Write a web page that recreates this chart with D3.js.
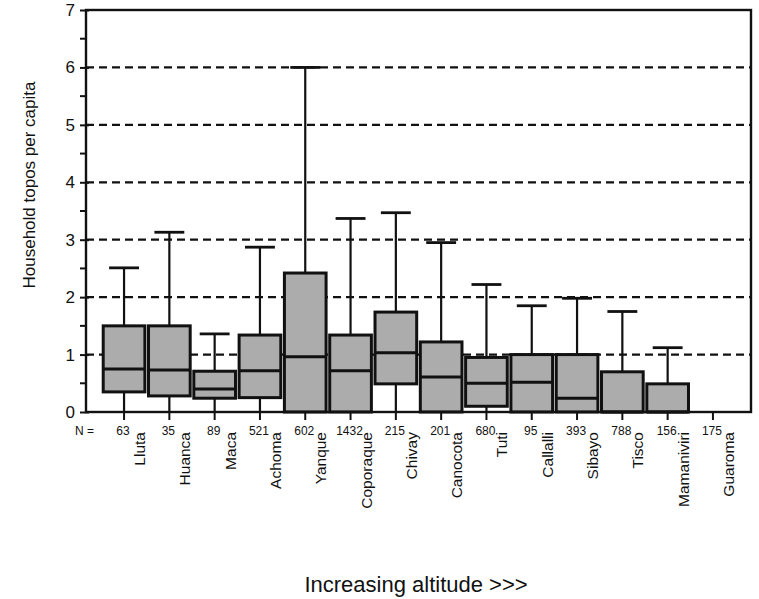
<!DOCTYPE html>
<html>
<head>
<meta charset="utf-8">
<script src="https://cdn.jsdelivr.net/npm/d3@7"></script>
<style>
  body { margin: 0; background: #fff; }
  text { font-family: "Liberation Sans", Arial, sans-serif; fill: #111; }
</style>
</head>
<body>
<div class="chart"></div>
<script>
// sites ordered by increasing altitude
var sites = ["Lluta", "Huanca", "Maca", "Achoma", "Yanque", "Coporaque", "Chivay",
  "Canocota", "Tuti", "Callalli", "Sibayo", "Tisco", "Mamaniviri", "Guaroma"];
var nCounts = [63, 35, 89, 521, 602, 1432, 215, 201, 680, 95, 393, 788, 156, 175];
// box plot statistics (household topos per capita)
var whiskerHigh = [2.51, 3.13, 1.36, 2.87, 6.0, 3.37, 3.47, 2.95, 2.22, 1.85, 1.98, 1.75, 1.12, 0];
var q3 = [1.50, 1.50, 0.71, 1.34, 2.42, 1.34, 1.74, 1.22, 0.95, 1.00, 1.00, 0.70, 0.49, 0];
var medians = [0.75, 0.73, 0.40, 0.72, 0.96, 0.72, 1.03, 0.61, 0.50, 0.52, 0.24, 0, 0, 0];
var q1 = [0.35, 0.28, 0.24, 0.25, 0, 0, 0.49, 0, 0.10, 0, 0, 0, 0, 0];
var whiskerLow = [0, 0, 0, 0, 0, 0, 0, 0, 0, 0, 0, 0, 0, 0];
var yTicks = [0, 1, 2, 3, 4, 5, 6, 7];
var gridValues = [1, 2, 3, 4, 5, 6];

function draw() {
  var width = 759, height = 599;
  var left = 86, right = 751, plotTop = 10, bottom = 412;

  var svg = d3.select(".chart").append("svg")
    .attr("width", width).attr("height", height);

  var x = d3.scalePoint().domain(sites).range([left, right]).padding(0.84);
  var y = d3.scaleLinear().domain([0, 7]).range([bottom, plotTop]);
  var step = x.step();
  var boxW = step * 0.92, capW = step * 0.66;

  // dashed grid lines
  svg.append("g").selectAll("line")
    .data(gridValues).enter().append("line")
    .attr("x1", left).attr("x2", right)
    .attr("y1", function (d) { return y(d); })
    .attr("y2", function (d) { return y(d); })
    .attr("stroke", "#111").attr("stroke-width", 2.2)
    .attr("stroke-dasharray", "8,5");

  var data = sites.map(function (s, i) {
    return { site: s, n: nCounts[i], hi: whiskerHigh[i], q3: q3[i], med: medians[i], q1: q1[i], lo: whiskerLow[i] };
  });
  var drawn = data.filter(function (d) { return d.hi > 0; });

  var boxes = svg.append("g").selectAll("g.box").data(drawn).enter().append("g").attr("class", "box");

  // whiskers
  boxes.append("line")
    .attr("x1", function (d) { return x(d.site); })
    .attr("x2", function (d) { return x(d.site); })
    .attr("y1", function (d) { return y(d.hi); })
    .attr("y2", function (d) { return y(d.lo); })
    .attr("stroke", "#111").attr("stroke-width", 2.2);
  boxes.append("line")
    .attr("x1", function (d) { return x(d.site) - capW / 2; })
    .attr("x2", function (d) { return x(d.site) + capW / 2; })
    .attr("y1", function (d) { return y(d.hi); })
    .attr("y2", function (d) { return y(d.hi); })
    .attr("stroke", "#111").attr("stroke-width", 2.8);

  // boxes
  boxes.append("rect")
    .attr("x", function (d) { return x(d.site) - boxW / 2; })
    .attr("y", function (d) { return y(d.q3); })
    .attr("width", boxW)
    .attr("height", function (d) { return y(d.q1) - y(d.q3); })
    .attr("fill", "#acacac")
    .attr("stroke", "#111").attr("stroke-width", 3);
  boxes.append("line")
    .attr("x1", function (d) { return x(d.site) - boxW / 2; })
    .attr("x2", function (d) { return x(d.site) + boxW / 2; })
    .attr("y1", function (d) { return y(d.med); })
    .attr("y2", function (d) { return y(d.med); })
    .attr("stroke", "#111").attr("stroke-width", 3);

  // frame
  svg.append("rect")
    .attr("x", left).attr("y", plotTop)
    .attr("width", right - left).attr("height", bottom - plotTop)
    .attr("fill", "none").attr("stroke", "#111").attr("stroke-width", 2.4);

  // y axis
  var yAxis = d3.axisLeft(y).tickValues(yTicks).tickSize(6).tickPadding(5)
    .tickFormat(d3.format("d"));
  var ya = svg.append("g").attr("transform", "translate(" + left + ",0)").call(yAxis);
  ya.select(".domain").remove();
  ya.selectAll("line").attr("stroke", "#111").attr("stroke-width", 2).attr("x1", 3);
  ya.selectAll("text").style("font-size", "17px").attr("fill", "#111")
    .style("font-family", "'Liberation Sans', Arial, sans-serif");
  // minor ticks at halves
  svg.append("g").selectAll("line")
    .data(yTicks.slice(0, -1)).enter().append("line")
    .attr("x1", left - 6).attr("x2", left)
    .attr("y1", function (d) { return y(d + 0.5); })
    .attr("y2", function (d) { return y(d + 0.5); })
    .attr("stroke", "#111").attr("stroke-width", 2);

  // x ticks
  svg.append("g").selectAll("line")
    .data(sites).enter().append("line")
    .attr("x1", function (d) { return x(d); })
    .attr("x2", function (d) { return x(d); })
    .attr("y1", bottom).attr("y2", bottom + 8)
    .attr("stroke", "#111").attr("stroke-width", 2);

  // N counts
  svg.append("text")
    .attr("x", 94).attr("y", 435)
    .attr("text-anchor", "end")
    .style("font-size", "12px")
    .text("N =");
  svg.append("g").selectAll("text")
    .data(data).enter().append("text")
    .attr("x", function (d) { return x(d.site) - 1; })
    .attr("y", 435)
    .attr("text-anchor", "middle")
    .style("font-size", "12px")
    .text(function (d) { return d.n; });

  // site names
  svg.append("g").selectAll("text")
    .data(sites).enter().append("text")
    .attr("transform", function (d) { return "translate(" + (x(d) + 21) + ",432) rotate(-90)"; })
    .attr("text-anchor", "end")
    .style("font-size", "15.5px")
    .text(function (d) { return d; });

  // axis titles
  svg.append("text")
    .attr("transform", "translate(35,185) rotate(-90)")
    .attr("text-anchor", "middle")
    .style("font-size", "17px")
    .text("Household topos per capita");
  svg.append("text")
    .attr("x", 416).attr("y", 592)
    .attr("text-anchor", "middle")
    .style("font-size", "22px")
    .text("Increasing altitude >>>");
}

draw();
</script>
</body>
</html>
